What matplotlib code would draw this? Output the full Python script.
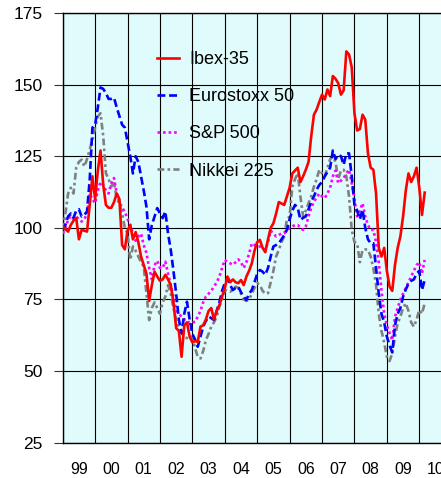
import matplotlib
matplotlib.use("Agg")
import matplotlib.pyplot as plt
import numpy as np

plt.rcParams['font.family'] = ['Liberation Sans', 'DejaVu Sans']

start_year = 1999
year_labels = ["99", "00", "01", "02", "03", "04", "05", "06", "07", "08", "09", "10"]
y_ticks = [25, 50, 75, 100, 125, 150, 175]

ibex = [100.5, 99.5, 98.7, 101, 102.5, 103.5, 96, 99.3, 99, 98.7, 108, 118,
        110, 120, 127, 115, 108, 107, 107, 109, 112, 110, 94, 92.5,
        99, 101, 96, 98.5, 95, 90, 87, 84, 74.5, 80, 84.7, 83,
        81.5, 82, 83.6, 82, 80, 74, 65, 64, 55, 66, 67, 62,
        60, 60.5, 60.2, 65.5, 66, 68, 71, 72, 68, 71, 73, 76,
        79, 83, 81, 82, 81, 80.7, 81.8, 80, 83, 85, 87.6, 92,
        95, 95.8, 93, 91.5, 96, 100, 101.6, 105, 109, 108.5, 108, 111,
        114, 119, 120, 121, 116, 118, 120.3, 123, 132, 139.5, 141.3, 144,
        146.5, 144.8, 148.3, 146, 153, 152, 150.5, 146.5, 148, 161.6, 160.5, 156,
        140, 134, 134.5, 139.5, 137.8, 126, 121, 120.3, 112, 93, 90, 93,
        85, 79.5, 78, 87, 93, 97, 104, 113, 119, 116, 118, 121,
        114, 104.5, 112.3]

eurostoxx = [99, 101, 104, 105, 103.5, 106, 106.5, 104, 104.5, 105.7, 116.8, 135,
             136, 142, 149, 148.5, 147, 145, 145, 145.4, 142, 139, 136, 135,
             130, 125, 119, 125, 123, 118, 113, 107.4, 96, 101, 104, 106.9,
             105, 103.4, 105.7, 98, 92.3, 85, 77, 68, 63.2, 70, 74.2, 68,
             63, 61, 58.5, 62, 65.5, 67.5, 69, 68.5, 67.8, 71, 74, 78,
             80.7, 82.4, 80, 78.3, 79, 79.5, 77.5, 76, 74.8, 77, 78.3, 81,
             84, 85.3, 84.7, 83.6, 86, 90, 93.5, 94, 94.6, 96, 97.5, 99.3,
             103, 106, 108, 107, 102.8, 103.5, 104, 106.5, 109.2, 111, 113.3, 115,
             116, 118, 119.5, 121, 127, 124, 125.5, 125, 122, 126, 126, 118,
             108, 106, 103, 106.3, 100, 96, 94.6, 94.6, 86, 77, 70, 67,
             62, 59, 56.5, 66, 70, 72, 76, 78.5, 80.5, 81.5, 82, 84,
             85, 78.3, 81.8]

sp500 = [98, 100, 102.8, 104, 103, 104, 103, 102.2, 103, 105, 112, 110,
         108.6, 113, 116, 115, 113, 112, 115.6, 117.4, 112, 109, 107, 105.7,
         103, 101, 98, 95.5, 97, 98, 94, 91.2, 86, 82, 87, 88.5,
         86, 86, 88.2, 84, 80, 76, 71.3, 70, 69, 68, 67.8, 66.7,
         67, 67.2, 69, 71, 74, 76, 77, 78, 79.5, 81, 83, 86,
         88.8, 88, 87.6, 87.1, 88, 89, 88, 86, 88, 91, 94.6, 94,
         93.5, 93.5, 93, 92.3, 95, 99, 98, 97, 97.5, 98, 98.1, 99,
         100, 100.5, 101, 101, 100, 99.3, 100.5, 104, 107, 109.2, 110.5, 112,
         111, 110.4, 112, 114, 118, 120, 115.6, 116.5, 117.4, 119, 120.3, 115.6,
         110, 104, 106, 108.6, 104, 101, 99.3, 99.3, 95, 88, 78.3, 70,
         66, 63.2, 60.8, 69, 72, 75, 77, 79, 81, 83, 85, 87,
         88, 84, 88.8]

nikkei = [99.3, 105, 112, 114, 112, 121, 123, 123.8, 121.4, 124, 127.3, 130.8,
          135, 138.9, 140, 132, 119, 117, 114.4, 116, 110, 108.6, 105, 100,
          98, 88.8, 93.5, 92, 90, 88, 86.5, 77.2, 67.8, 72, 74, 72,
          70, 74, 76, 80, 77, 72, 67.8, 65, 63.2, 62, 61.5, 61,
          62, 58, 55, 54.4, 57, 60.8, 63, 65.5, 67, 69, 72.5, 75,
          78.3, 78, 77.7, 78.5, 79.5, 79, 77, 75, 74.5, 75, 77, 79,
          80.7, 80, 78, 77, 77.2, 81, 85, 90, 92.3, 95, 97, 103,
          104, 114.4, 117, 119.1, 110.9, 104, 106, 108.6, 111, 114.4, 117, 120.3,
          119, 117.9, 121, 124, 125, 123, 117, 120, 120.3, 118, 110.9, 99.3,
          95, 94.6, 88, 92.3, 92.5, 92.3, 90, 86, 80, 70, 64, 60,
          55, 53.5, 56.2, 62, 66.7, 69, 72, 73.7, 71, 67, 65.5, 68,
          71.3, 70, 73.7]

series_names = ["Ibex-35", "Eurostoxx 50", "S&P 500", "Nikkei 225"]

W, H = 441, 478
fig = plt.figure(figsize=(W / 100, H / 100), dpi=100)
ax = fig.add_axes([62.7 / W, 1 - 442.7 / H, 389 / W, 429.7 / H])
ax.set_facecolor('#E0FBFB')

t = start_year + np.arange(len(ibex)) / 12.0

ax.plot(t, ibex, color='#FF0000', lw=1.9, ls='-', label=series_names[0], zorder=6)
ax.plot(t, eurostoxx, color='#0000FF', lw=1.9, ls=(0, (3, 1.4)), label=series_names[1], zorder=5)
ax.plot(t, sp500, color='#FF00FF', lw=1.9, ls=(0, (1, 1.1)), label=series_names[2], zorder=4)
ax.plot(t, nikkei, color='#808080', lw=1.9, ls=(0, (2.6, 1.2, 1, 1.2)), label=series_names[3], zorder=3)

ax.set_xlim(start_year, start_year + 12)
ax.set_ylim(25, 175)

years = np.arange(start_year, start_year + 13)
ax.set_xticks(years)
ax.set_xticklabels([])
ax.set_xticks(start_year + 0.5 + np.arange(len(year_labels)), minor=True)
ax.set_xticklabels(year_labels, minor=True)
ax.tick_params(axis='x', which='both', length=0, labelsize=11.5, pad=14)

ax.set_yticks(y_ticks)
ax.tick_params(axis='y', length=6.3, width=0.8, direction='out', labelsize=12.5, pad=8, color='#333333')

ax.grid(True, which='major', color='black', lw=0.8)
for s in ['left', 'bottom', 'top']:
    ax.spines[s].set_color('black')
    ax.spines[s].set_linewidth(1.0)
ax.spines['right'].set_visible(False)

leg = ax.legend(loc='upper left', bbox_to_anchor=(157 / W, 1 - 51 / H),
                bbox_transform=fig.transFigure, frameon=False, fontsize=13,
                handlelength=1.22, handletextpad=0.55, labelspacing=1.12,
                borderpad=0, borderaxespad=0)

fig.savefig('out.png', dpi=100)
